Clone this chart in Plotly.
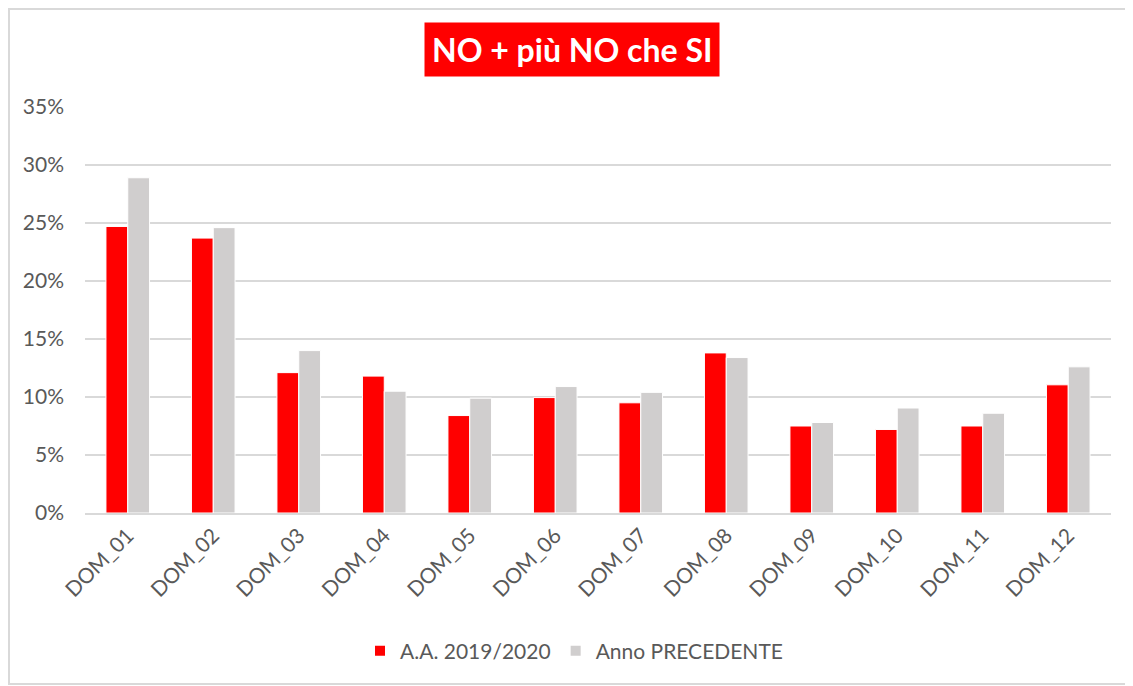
import plotly.graph_objects as go

categories = ["DOM_01", "DOM_02", "DOM_03", "DOM_04", "DOM_05", "DOM_06",
              "DOM_07", "DOM_08", "DOM_09", "DOM_10", "DOM_11", "DOM_12"]
current_year = [0.247, 0.237, 0.121, 0.118, 0.084, 0.0995, 0.095, 0.138, 0.075, 0.072, 0.075, 0.1105]
previous_year = [0.289, 0.246, 0.140, 0.105, 0.099, 0.109, 0.104, 0.134, 0.078, 0.0905, 0.086, 0.126]
series_names = ["A.A. 2019/2020", "Anno PRECEDENTE"]
title_text = "NO + più NO che SI"

FONT = "Lato"
TXT = "#595959"
OFF = 8  # page body margin

fig = go.Figure()
fig.add_trace(go.Bar(x=categories, y=current_year, name=series_names[0],
                     marker=dict(color="#FF0000", line=dict(color="white", width=1))))
fig.add_trace(go.Bar(x=categories, y=previous_year, name=series_names[1],
                     marker=dict(color="#D0CECE", line=dict(color="white", width=1))))

W, H = 1133 - OFF, 686 - OFF
L, T = 85 - OFF, 107 - OFF
R = W - (1111 - OFF)
B = H - (513 - OFF)
pw, ph = W - L - R, H - T - B

def px(x):
    return (x - OFF - L) / pw

def py(y):
    return (H - B - (y - OFF)) / ph

fig.update_layout(
    width=W, height=H,
    margin=dict(l=L, r=R, t=T, b=B, autoexpand=False),
    paper_bgcolor="white", plot_bgcolor="white",
    barmode="group", bargap=0.49, bargroupgap=0.0,
    font=dict(family=FONT, color=TXT, size=21),
    showlegend=True,
    legend=dict(orientation="h", x=px(574), y=py(651), xanchor="center", yanchor="middle",
                font=dict(family=FONT, size=21, color=TXT), itemsizing="constant",
                traceorder="normal"),
    xaxis=dict(tickangle=-45, tickfont=dict(family=FONT, size=21, color=TXT),
               showgrid=False, showline=True, linecolor="#D9D9D9", linewidth=2,
               ticks="", fixedrange=True, automargin=False),
    yaxis=dict(range=[0, 0.35], dtick=0.05, tickformat=".0%",
               tickfont=dict(family=FONT, size=21, color=TXT),
               showgrid=True, gridcolor="#D9D9D9", gridwidth=2,
               zeroline=False, showline=False, ticks="", ticklabelstandoff=20,
               automargin=False),
    annotations=[dict(text="<b>" + title_text + "</b>", xref="paper", yref="paper",
                      x=px(572), y=py(50), xanchor="center", yanchor="middle",
                      showarrow=False, bgcolor="#FF0000",
                      font=dict(family=FONT, size=32, color="white"),
                      borderpad=7)],
    shapes=[dict(type="rect", xref="paper", yref="paper",
                 x0=px(OFF + 1), x1=px(1130), y0=py(684), y1=py(OFF + 1),
                 line=dict(color="#D9D9D9", width=2), fillcolor="rgba(0,0,0,0)")],
)

fig.write_html("out.html")
